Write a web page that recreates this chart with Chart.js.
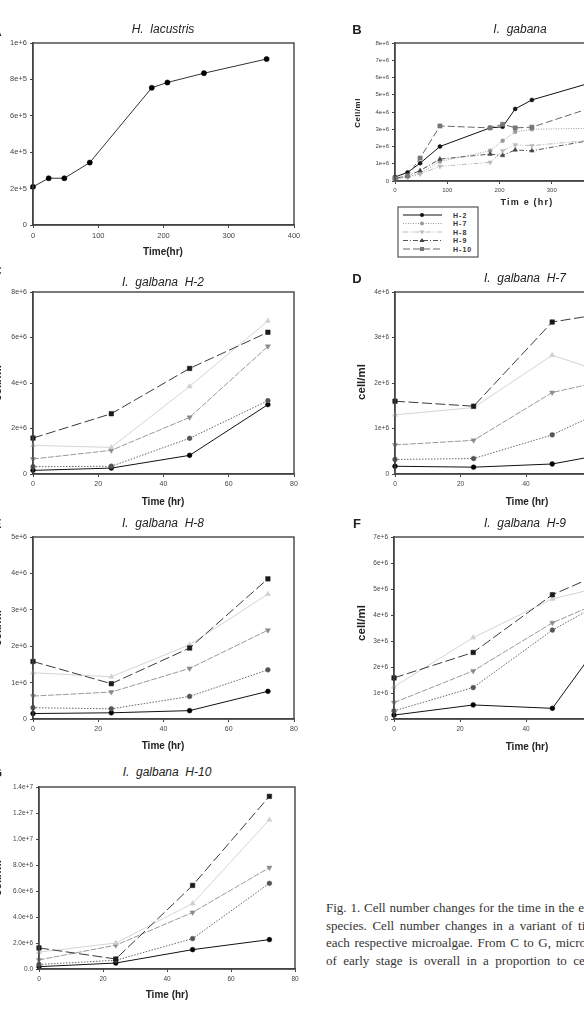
<!DOCTYPE html>
<html>
<head>
<meta charset="utf-8">
<script src="https://cdn.jsdelivr.net/npm/chart.js@4.4.0/dist/chart.umd.min.js"></script>
<style>
  html, body { margin: 0; padding: 0; background: #fff; }
  body { width: 584px; height: 1022px; position: relative; overflow: hidden; font-family: 'Liberation Sans', Arial, sans-serif; }
  canvas { position: absolute; }
  .t { position: absolute; white-space: pre; color: #222; transform: translate(-50%, -50%); }
  .ttl { font-size: 12px; font-style: italic; }
  .xt { font-size: 10px; font-weight: bold; }
  .yt { font-weight: bold; }
  .lt { font-size: 13px; font-weight: bold; }
  .cap { position: absolute; left: 326px; font-family: 'Liberation Serif', serif; font-size: 13px; color: #333; white-space: nowrap; }
</style>
</head>
<body>
<div class="t ttl" style="left:163px;top:29px">H.  lacustris</div>
<div class="t ttl" style="left:520px;top:29px">I.  gabana</div>
<div class="t ttl" style="left:163px;top:282px">I.  galbana  H-2</div>
<div class="t ttl" style="left:525px;top:278px">I.  galbana  H-7</div>
<div class="t ttl" style="left:163px;top:523px">I.  galbana  H-8</div>
<div class="t ttl" style="left:525px;top:523px">I.  galbana  H-9</div>
<div class="t ttl" style="left:167px;top:772px">I.  galbana  H-10</div>

<div class="t lt" style="left:-3px;top:31px">A</div>
<div class="t lt" style="left:357px;top:29px">B</div>
<div class="t lt" style="left:-3px;top:270px">C</div>
<div class="t lt" style="left:357px;top:278px">D</div>
<div class="t lt" style="left:-3px;top:523px">E</div>
<div class="t lt" style="left:357px;top:523px">F</div>
<div class="t lt" style="left:-3px;top:772px">G</div>

<div class="t xt" style="left:163px;top:251px">Time(hr)</div>
<div class="t xt" style="left:527px;top:202px;font-size:9px;letter-spacing:1.2px">Tim e (hr)</div>
<div class="t xt" style="left:163px;top:501px">Time (hr)</div>
<div class="t xt" style="left:527px;top:501px">Time (hr)</div>
<div class="t xt" style="left:163px;top:745px">Time (hr)</div>
<div class="t xt" style="left:527px;top:746px">Time (hr)</div>
<div class="t xt" style="left:167px;top:994px">Time (hr)</div>

<div class="t yt" style="left:-5px;top:132px;font-size:9px;font-weight:normal;transform:translate(-50%,-50%) rotate(-90deg)">Cell/ml</div>
<div class="t yt" style="left:357px;top:113px;font-size:8px;letter-spacing:0.5px;transform:translate(-50%,-50%) rotate(-90deg)">Cell/ml</div>
<div class="t yt" style="left:-3px;top:383px;font-size:11.5px;transform:translate(-50%,-50%) rotate(-90deg)">cell/ml</div>
<div class="t yt" style="left:361px;top:382px;font-size:11.5px;transform:translate(-50%,-50%) rotate(-90deg)">cell/ml</div>
<div class="t yt" style="left:-3px;top:628px;font-size:11.5px;transform:translate(-50%,-50%) rotate(-90deg)">cell/ml</div>
<div class="t yt" style="left:361px;top:623px;font-size:11.5px;transform:translate(-50%,-50%) rotate(-90deg)">cell/ml</div>
<div class="t yt" style="left:-3px;top:878px;font-size:11.5px;transform:translate(-50%,-50%) rotate(-90deg)">cell/ml</div>

<svg id="legendB" style="position:absolute;left:397px;top:206px" width="83" height="53"></svg>

<div class="cap" style="top:900px;word-spacing:0.6px">Fig. 1. Cell number changes for the time in the e</div>
<div class="cap" style="top:918px;word-spacing:2.4px">species. Cell number changes in a variant of ti</div>
<div class="cap" style="top:935px;word-spacing:1.4px">each respective microalgae. From C to G, micro</div>
<div class="cap" style="top:953px;word-spacing:3.2px">of early stage is overall in a proportion to ce</div>

<script>
// ---- data ----
const timeA = [0, 24, 48, 87, 182, 206, 262, 358];
const lacustris = [2.1e5, 2.57e5, 2.57e5, 3.43e5, 7.54e5, 7.83e5, 8.34e5, 9.12e5];

const timeB = [0, 24, 48, 86, 182, 206, 230, 262, 380];
const gabH2 = [0.23e6, 0.5e6, 1.03e6, 2.0e6, 3.08e6, 3.14e6, 4.18e6, 4.7e6, 5.74e6];
const gabH7 = [0.1e6, 0.25e6, 0.45e6, 1.13e6, 1.75e6, 2.33e6, 2.85e6, 3.0e6, 3.06e6];
const gabH8 = [0.1e6, 0.2e6, 0.4e6, 0.85e6, 1.08e6, 1.75e6, 2.1e6, 2.05e6, 2.38e6];
const gabH9 = [0.15e6, 0.3e6, 0.6e6, 1.27e6, 1.56e6, 1.48e6, 1.8e6, 1.75e6, 2.39e6];
const gabH10 = [0.16e6, 0.3e6, 1.33e6, 3.19e6, 3.08e6, 3.29e6, 3.08e6, 3.12e6, 4.29e6];

const timeCG = [0, 24, 48, 72];
const cH2 = [0.16e6, 0.26e6, 0.82e6, 3.05e6];
const cH7 = [0.32e6, 0.34e6, 1.57e6, 3.22e6];
const cH8 = [0.66e6, 1.04e6, 2.49e6, 5.61e6];
const cH9 = [1.26e6, 1.17e6, 3.85e6, 6.73e6];
const cH10 = [1.58e6, 2.65e6, 4.64e6, 6.23e6];

const dH2 = [0.17e6, 0.15e6, 0.22e6, 0.54e6];
const dH7 = [0.32e6, 0.34e6, 0.86e6, 1.67e6];
const dH8 = [0.64e6, 0.74e6, 1.79e6, 2.18e6];
const dH9 = [1.3e6, 1.46e6, 2.61e6, 2.04e6];
const dH10 = [1.6e6, 1.49e6, 3.34e6, 3.62e6];

const eH2 = [0.15e6, 0.17e6, 0.23e6, 0.76e6];
const eH7 = [0.31e6, 0.28e6, 0.62e6, 1.35e6];
const eH8 = [0.63e6, 0.74e6, 1.39e6, 2.44e6];
const eH9 = [1.27e6, 1.16e6, 2.04e6, 3.43e6];
const eH10 = [1.58e6, 0.97e6, 1.95e6, 3.85e6];

const fH2 = [0.15e6, 0.54e6, 0.41e6, 4.6e6];
const fH7 = [0.31e6, 1.21e6, 3.42e6, 5.1e6];
const fH8 = [0.63e6, 1.85e6, 3.7e6, 5.0e6];
const fH9 = [1.24e6, 3.13e6, 4.62e6, 5.35e6];
const fH10 = [1.58e6, 2.56e6, 4.78e6, 6.1e6];

const gH2 = [0.18e6, 0.46e6, 1.49e6, 2.26e6];
const gH7 = [0.35e6, 0.67e6, 2.34e6, 6.59e6];
const gH8 = [0.7e6, 1.83e6, 4.35e6, 7.8e6];
const gH9 = [1.3e6, 2.0e6, 5.04e6, 11.48e6];
const gH10 = [1.62e6, 0.77e6, 6.43e6, 13.28e6];

const strains = ["H-2", "H-7", "H-8", "H-9", "H-10"];

// ---- styles ----
// panels C-G
const styleCG = {
  "H-2": { line: "#111", fill: "#000", dash: [], shape: "circle", r: 2.4, rot: 0 },
  "H-7": { line: "#666", fill: "#555", dash: [1.5, 1.5], shape: "circle", r: 2.4, rot: 0 },
  "H-8": { line: "#999", fill: "#8a8a8a", dash: [6, 1.5], shape: "triangle", r: 3, rot: 180 },
  "H-9": { line: "#d4d4d4", fill: "#cfcfcf", dash: [], shape: "triangle", r: 3, rot: 0 },
  "H-10": { line: "#3a3a3a", fill: "#1a1a1a", dash: [10, 3.5], shape: "rect", r: 3.2, rot: 0 },
};
// panel B
const styleB = {
  "H-2": { line: "#111", fill: "#111", dash: [], shape: "circle", r: 2, rot: 0 },
  "H-7": { line: "#999", fill: "#999", dash: [1, 1.5], shape: "circle", r: 2, rot: 0 },
  "H-8": { line: "#bbb", fill: "#bbb", dash: [5, 1.5, 1, 1.5, 1, 1.5], shape: "triangle", r: 2.6, rot: 180 },
  "H-9": { line: "#555", fill: "#444", dash: [5, 2, 1, 2], shape: "triangle", r: 2.6, rot: 0 },
  "H-10": { line: "#666", fill: "#777", dash: [7, 3], shape: "rect", r: 3, rot: 0 },
};

const pts = (xs, ys) => xs.map((x, i) => ({ x: x, y: ys[i] }));

const makeSet = (label, xs, ys, st) => ({
  label: label,
  data: pts(xs, ys),
  borderColor: st.line,
  borderWidth: 1,
  borderDash: st.dash,
  pointStyle: st.shape,
  pointRotation: st.rot,
  pointRadius: st.r,
  pointBackgroundColor: st.fill,
  pointBorderColor: st.fill,
  pointBorderWidth: 0.5,
  tension: 0,
  clip: false,
});

const expLabel = (v) => {
  if (v === 0) return "0";
  const e = Math.floor(Math.log10(v) + 1e-9);
  const m = Math.round((v / Math.pow(10, e)) * 10) / 10;
  return m + "e+" + e;
};
const expLabel1 = (v) => {
  if (v === 0) return "0.0";
  const e = Math.floor(Math.log10(v) + 1e-9);
  const m = v / Math.pow(10, e);
  return m.toFixed(1) + "e+" + e;
};

const frame = {
  id: "frame",
  afterDraw(chart) {
    const a = chart.chartArea;
    const ctx = chart.ctx;
    ctx.save();
    ctx.strokeStyle = "#444";
    ctx.lineWidth = 1.4;
    ctx.strokeRect(a.left, a.top, a.right - a.left, a.bottom - a.top);
    ctx.restore();
  },
};

// p = plot rectangle on the page
function panel(p, datasets, xMax, xStep, yMax, yStep, fmt, fontSize) {
  const yW = p.yW, padTop = 8, padRight = 10, xH = 22;
  const canvas = document.createElement("canvas");
  const w = p.R - p.L + yW + padRight;
  const h = p.B - p.T + padTop + xH;
  canvas.width = w;
  canvas.height = h;
  canvas.style.left = (p.L - yW) + "px";
  canvas.style.top = (p.T - padTop) + "px";
  canvas.style.width = w + "px";
  canvas.style.height = h + "px";
  document.body.insertBefore(canvas, document.body.firstChild);

  const tickFont = { family: "'Liberation Sans', Arial, sans-serif", size: fontSize };
  return new Chart(canvas, {
    type: "line",
    data: { datasets: datasets },
    options: {
      responsive: false,
      animation: false,
      devicePixelRatio: 1,
      layout: { padding: { top: padTop, right: padRight, left: 0, bottom: 0 } },
      plugins: { legend: { display: false }, tooltip: { enabled: false } },
      scales: {
        x: {
          type: "linear",
          min: 0,
          max: xMax,
          afterFit: (s) => { s.height = xH; },
          ticks: { stepSize: xStep, color: "#444", font: tickFont, padding: 3, maxRotation: 0 },
          grid: { display: true, drawOnChartArea: false, tickLength: 3, color: "#444" },
          border: { display: true, color: "#444", width: 1.4 },
        },
        y: {
          min: 0,
          max: yMax,
          afterFit: (s) => { s.width = yW; },
          ticks: { stepSize: yStep, color: "#444", font: tickFont, padding: 3, callback: fmt },
          grid: { display: true, drawOnChartArea: false, tickLength: 3, color: "#444" },
          border: { display: true, color: "#444", width: 1.4 },
        },
      },
    },
    plugins: [frame],
  });
}

const strainSets = (xs, arrs, styles) =>
  strains.map((s, i) => makeSet(s, xs, arrs[i], styles[s]));

// A
panel({ L: 33, T: 43, R: 294, B: 225, yW: 33 },
  [makeSet("H. lacustris", timeA, lacustris,
    { line: "#333", fill: "#000", dash: [], shape: "circle", r: 2.6, rot: 0 })],
  400, 100, 1e6, 2e5, expLabel, 7.5);

// B
panel({ L: 395, T: 43, R: 604, B: 181, yW: 40 },
  strainSets(timeB, [gabH2, gabH7, gabH8, gabH9, gabH10], styleB).reverse(),
  400, 100, 8e6, 1e6, expLabel, 6);

// C
panel({ L: 33, T: 292, R: 294, B: 474, yW: 33 },
  strainSets(timeCG, [cH2, cH7, cH8, cH9, cH10], styleCG).reverse(),
  80, 20, 8e6, 2e6, expLabel, 7);

// D
panel({ L: 395, T: 292, R: 657, B: 474, yW: 40 },
  strainSets(timeCG, [dH2, dH7, dH8, dH9, dH10], styleCG).reverse(),
  80, 20, 4e6, 1e6, expLabel, 6.5);

// E
panel({ L: 33, T: 537, R: 294, B: 719, yW: 33 },
  strainSets(timeCG, [eH2, eH7, eH8, eH9, eH10], styleCG).reverse(),
  80, 20, 5e6, 1e6, expLabel, 7);

// F
panel({ L: 394, T: 537, R: 658, B: 719, yW: 40 },
  strainSets(timeCG, [fH2, fH7, fH8, fH9, fH10], styleCG).reverse(),
  80, 20, 7e6, 1e6, expLabel, 6.5);

// G
panel({ L: 39, T: 787, R: 295, B: 969, yW: 39 },
  strainSets(timeCG, [gH2, gH7, gH8, gH9, gH10], styleCG).reverse(),
  80, 20, 1.4e7, 2e6, expLabel1, 6.5);

// legend for B
const svg = document.getElementById("legendB");
const NS = "http://www.w3.org/2000/svg";
const el = (tag, attrs) => {
  const e = document.createElementNS(NS, tag);
  for (const k in attrs) e.setAttribute(k, attrs[k]);
  svg.appendChild(e);
  return e;
};
el("rect", { x: 1, y: 1, width: 80, height: 50, fill: "#fff", stroke: "#555", "stroke-width": 1.2 });
strains.forEach((s, i) => {
  const st = styleB[s];
  const y = 9 + i * 8.5;
  el("line", { x1: 6, y1: y, x2: 45, y2: y, stroke: st.line, "stroke-width": 1, "stroke-dasharray": st.dash.join(" ") });
  const cx = 25;
  if (st.shape === "circle") el("circle", { cx: cx, cy: y, r: 2, fill: st.fill });
  else if (st.shape === "rect") el("rect", { x: cx - 2, y: y - 2, width: 4, height: 4, fill: st.fill });
  else {
    const d = st.rot ? 1 : -1;
    el("polygon", { points: `${cx - 2.5},${y - d * 1.5} ${cx + 2.5},${y - d * 1.5} ${cx},${y + d * 2.5}`, fill: st.fill });
  }
  const t = el("text", { x: 56, y: y + 2.5, "font-size": 7, "font-weight": "bold", "letter-spacing": 1, fill: "#333", "font-family": "Liberation Sans, Arial" });
  t.textContent = s;
});
</script>
</body>
</html>
